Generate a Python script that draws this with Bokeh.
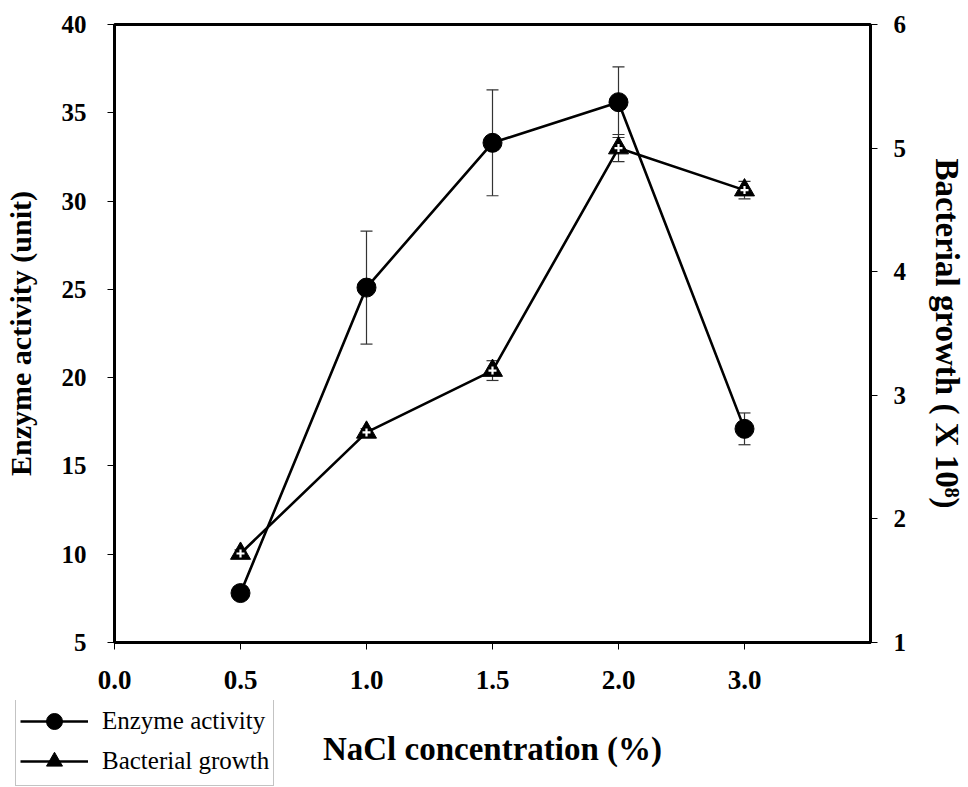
from bokeh.plotting import figure
from bokeh.models import (Range1d, LinearAxis, ColumnDataSource, Whisker, TeeHead,
                          Legend, LegendItem, FixedTicker, Label)
from bokeh.embed import file_html
from bokeh.resources import INLINE

# ---- data ----
tick_labels = ["0.0", "0.5", "1.0", "1.5", "2.0", "3.0"]
nacl = ["0.5", "1.0", "1.5", "2.0", "3.0"]
enzyme = [7.8, 25.1, 33.3, 35.6, 17.1]
enzyme_err = [0.3, 3.2, 3.0, 2.0, 0.9]
growth = [1.72, 2.70, 3.20, 5.00, 4.66]
growth_err = [0.03, 0.03, 0.08, 0.11, 0.07]
left_ticks = [5, 10, 15, 20, 25, 30, 35, 40]
right_ticks = [1, 2, 3, 4, 5, 6]
x_title = "NaCl concentration (%)"
left_title = "Enzyme activity (unit)"
right_title = "Bacterial growth ( X 10\u2078)"
series_names = ["Enzyme activity", "Bacterial growth"]

xpos = [tick_labels.index(c) for c in nacl]

src_e = ColumnDataSource(dict(x=xpos, y=enzyme,
                              lo=[v - e for v, e in zip(enzyme, enzyme_err)],
                              hi=[v + e for v, e in zip(enzyme, enzyme_err)]))
src_g = ColumnDataSource(dict(x=xpos, y=growth,
                              lo=[v - e for v, e in zip(growth, growth_err)],
                              hi=[v + e for v, e in zip(growth, growth_err)]))

FONT = "Liberation Serif"
W = 968
H1 = 700
H2 = 87

p = figure(width=W, height=H1, output_backend="svg", toolbar_location=None,
           x_range=Range1d(0, len(tick_labels)), y_range=Range1d(5, 40),
           min_border_left=114, min_border_right=98, min_border_top=24,
           min_border_bottom=58, background_fill_color="white",
           border_fill_color="white")
p.extra_y_ranges = {"growth": Range1d(1, 6)}
p.xgrid.visible = False
p.ygrid.visible = False
p.outline_line_color = "black"
p.outline_line_width = 3

xa = p.xaxis[0]
xa.ticker = FixedTicker(ticks=list(range(len(tick_labels))))
xa.major_label_overrides = {i: t for i, t in enumerate(tick_labels)}

ya = p.yaxis[0]
ya.ticker = FixedTicker(ticks=left_ticks)
ya.axis_label = left_title

ra = LinearAxis(y_range_name="growth", ticker=FixedTicker(ticks=right_ticks),
                axis_label=right_title)
p.add_layout(ra, "right")

for ax in (xa, ya, ra):
    ax.axis_line_width = 3
    ax.axis_line_color = "black"
    ax.major_tick_line_color = "black"
    ax.major_tick_line_width = 1
    ax.major_tick_out = 7
    ax.major_tick_in = 0
    ax.minor_tick_line_color = None
    ax.major_label_text_font = FONT
    ax.major_label_text_font_style = "bold"
    ax.major_label_text_color = "black"
    ax.axis_label_text_font = FONT
    ax.axis_label_text_font_style = "bold"
    ax.axis_label_text_color = "black"

xa.major_label_text_font_size = "27px"
xa.major_label_standoff = 21
ya.major_label_text_font_size = "25px"
ya.major_label_standoff = 21
ya.axis_label_text_font_size = "30px"
ya.axis_label_standoff = 22
ra.major_label_text_font_size = "25px"
ra.major_label_standoff = 16
ra.axis_label_text_font_size = "33px"
ra.axis_label_standoff = 20

# error bars
def heads():
    return dict(upper_head=TeeHead(size=12, line_color="#333333", line_width=1.2),
                lower_head=TeeHead(size=12, line_color="#333333", line_width=1.2))

p.add_layout(Whisker(base="x", upper="hi", lower="lo", source=src_e,
                     dimension="height", line_color="#333333", line_width=1.2,
                     **heads()))
p.add_layout(Whisker(base="x", upper="hi", lower="lo", source=src_g,
                     dimension="height", y_range_name="growth",
                     line_color="#333333", line_width=1.2, **heads()))

LINE = dict(line_color="black", line_width=2.6)
CIRC = dict(marker="circle", size=19, fill_color="black", line_color="black")
TRI = dict(marker="triangle", size=20, fill_color="black", line_color="black")
PLUS = dict(marker="cross", size=8, line_color="white", line_width=2.2)

p.line("x", "y", source=src_e, **LINE)
p.scatter("x", "y", source=src_e, **CIRC)
p.line("x", "y", source=src_g, y_range_name="growth", **LINE)
p.scatter("x", "y", source=src_g, y_range_name="growth", **TRI)
p.scatter("x", "y", source=src_g, y_range_name="growth", **PLUS)

# ---- bottom strip: legend and x-axis title (separate root, no frame alignment) ----
# its ranges lie away from the data, so the legend renderers draw nothing in the frame
q = figure(width=W, height=H2, output_backend="svg", toolbar_location=None,
           x_range=Range1d(-2000, -1000), y_range=Range1d(-2000, -1000),
           x_axis_location=None, y_axis_location=None, min_border=0,
           background_fill_color="white", border_fill_color="white")
q.xgrid.visible = False
q.ygrid.visible = False
q.outline_line_color = None

r_le = q.line("x", "y", source=src_e, **LINE)
r_se = q.scatter("x", "y", source=src_e, **CIRC)
r_lg = q.line("x", "y", source=src_g, **LINE)
r_sg = q.scatter("x", "y", source=src_g, **TRI)

legend = Legend(items=[LegendItem(label=series_names[0], renderers=[r_le, r_se]),
                       LegendItem(label=series_names[1], renderers=[r_lg, r_sg])],
                location=(15, 1), orientation="vertical",
                label_text_font=FONT, label_text_font_size="25px",
                label_text_color="black", glyph_width=68, glyph_height=40,
                label_height=40, spacing=-2, padding=4, margin=0,
                label_standoff=14, border_line_color="#888888",
                border_line_width=1, background_fill_alpha=1.0)
q.add_layout(legend, "center")

q.add_layout(Label(x=492, y=787 - 748, x_units="screen", y_units="screen",
                   text=x_title, text_align="center", text_baseline="alphabetic",
                   text_font=FONT, text_font_style="bold",
                   text_font_size="33px", text_color="black"))

open("out.html", "w").write(file_html([p, q], INLINE))
